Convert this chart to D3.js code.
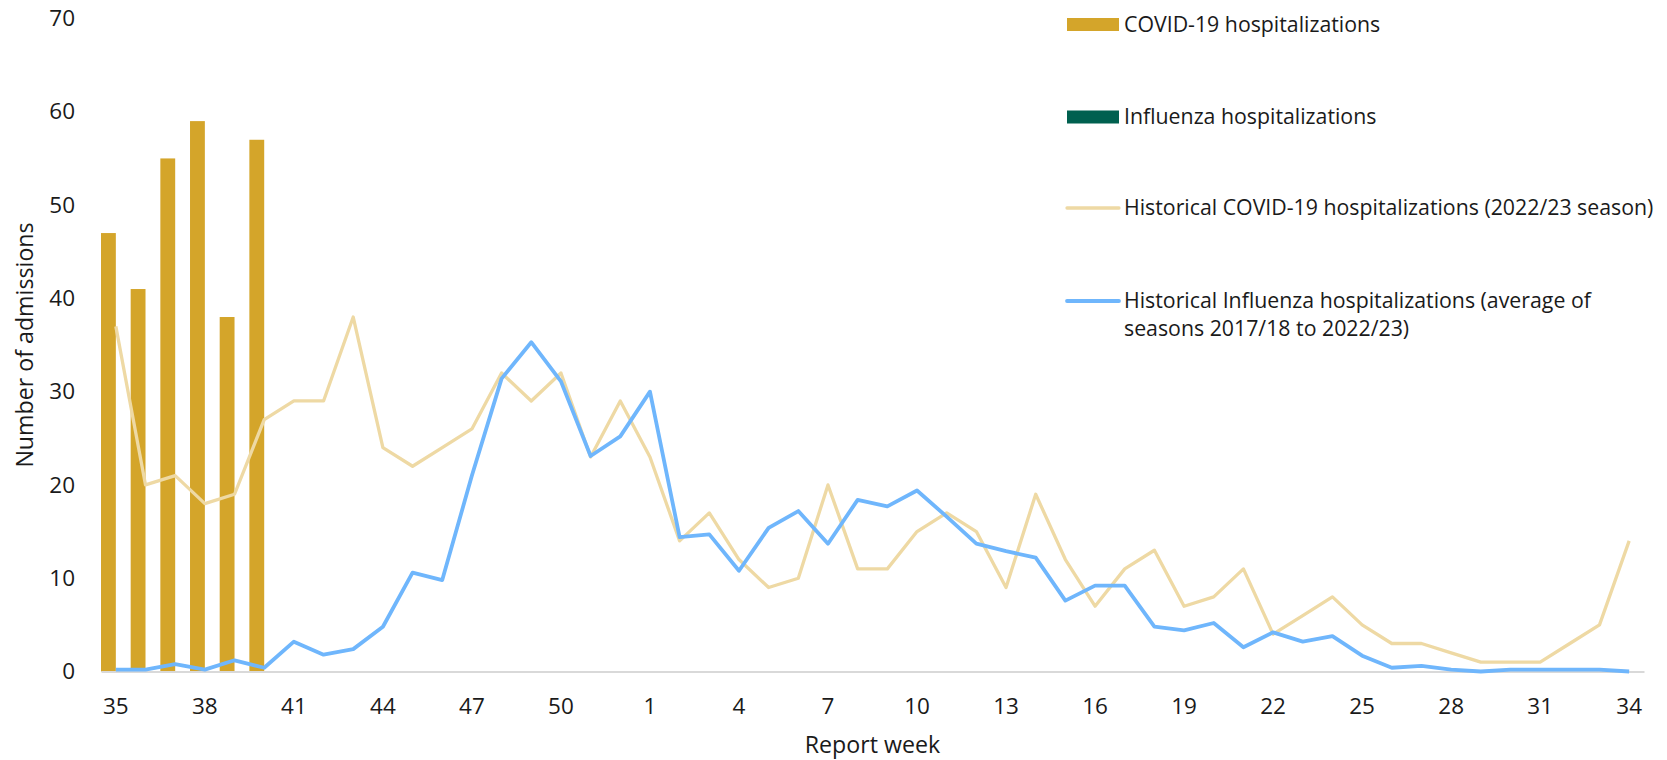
<!DOCTYPE html>
<html>
<head>
<meta charset="utf-8">
<script src="https://cdn.jsdelivr.net/npm/d3@7"></script>
<style>
  body { margin: 0; background: #fff; }
  svg { display: block; font-family: 'Open Sans', sans-serif; }
</style>
</head>
<body>
<div class="Canvas"></div>
<script>
const weeks = ['35', '36', '37', '38', '39', '40', '41', '42', '43', '44', '45', '46', '47', '48', '49', '50', '51', '52',
  '1', '2', '3', '4', '5', '6', '7', '8', '9', '10', '11', '12', '13', '14', '15', '16', '17', '18', '19', '20',
  '21', '22', '23', '24', '25', '26', '27', '28', '29', '30', '31', '32', '33', '34'];
const tickWeeks = ['35', '38', '41', '44', '47', '50', '1', '4', '7', '10', '13', '16', '19', '22', '25', '28', '31', '34'];
const yTicks = [0, 10, 20, 30, 40, 50, 60, 70];

// current season, reported so far
const barWeeks = ['35', '36', '37', '38', '39', '40'];
const covidHosp = [47, 41, 55, 59, 38, 57];
const fluHosp = [0, 0, 0, 0, 0, 0];

// historical lines, one value per week
const histCovid = [37, 20, 21, 18, 19, 27, 29, 29, 38, 24, 22, 24, 26, 32, 29, 32, 23, 29,
  23, 14, 17, 12, 9, 10, 20, 11, 11, 15, 17, 15, 9, 19, 12, 7, 11, 13, 7, 8,
  11, 4, 6, 8, 5, 3, 3, 2, 1, 1, 1, 3, 5, 14];
const histFlu = [0.2, 0.2, 0.8, 0.2, 1.2, 0.4, 3.2, 1.8, 2.4, 4.8, 10.6, 9.8, 21, 31.4, 35.3, 31.1, 23.1, 25.2,
  30, 14.4, 14.7, 10.8, 15.4, 17.2, 13.7, 18.4, 17.7, 19.4, 16.6, 13.7, 12.9, 12.2, 7.6, 9.2, 9.2, 4.8, 4.4, 5.2,
  2.6, 4.2, 3.2, 3.8, 1.7, 0.4, 0.6, 0.2, 0, 0.2, 0.2, 0.2, 0.2, 0];

const legendLabels = [
  ['COVID-19 hospitalizations'],
  ['Influenza hospitalizations'],
  ['Historical COVID-19 hospitalizations (2022/23 season)'],
  ['Historical Influenza hospitalizations (average of', 'seasons 2017/18 to 2022/23)']
];
const legendKinds = ['bar', 'bar', 'line', 'line'];

const width = 1667;
const height = 760;
const covidColor = '#d4a52a';
const fluColor = '#00604f';
const histCovidColor = '#eed9a4';
const histFluColor = '#6fb6fc';
const textColor = '#1a1a1a';
const tickSize = 22.5;
const titleSize = 23.2;
const legendSize = 21.3;

const svg = d3.select('.Canvas').append('svg').attr('width', width).attr('height', height);

const x = d3.scaleBand().domain(weeks).range([101, 1644]).padding(0);
const xInner = d3.scaleBand().domain(['covid', 'flu']).range([0, x.bandwidth()]);
const y = d3.scaleLinear().domain([0, 70]).range([671.5, 18.5]);
const xc = (w) => x(w) + x.bandwidth() / 2;

// bars
const barData = barWeeks.map((w, i) => ({ week: w, covid: covidHosp[i], flu: fluHosp[i] }));
const barGroups = svg.append('g').selectAll('g').data(barData).enter().append('g')
  .attr('transform', (d) => `translate(${x(d.week)},0)`);
barGroups.append('rect')
  .attr('x', xInner('covid'))
  .attr('width', xInner.bandwidth())
  .attr('y', (d) => y(d.covid))
  .attr('height', (d) => y(0) - y(d.covid))
  .attr('fill', covidColor);
barGroups.append('rect')
  .attr('x', xInner('flu'))
  .attr('width', xInner.bandwidth())
  .attr('y', (d) => y(d.flu))
  .attr('height', (d) => y(0) - y(d.flu))
  .attr('fill', fluColor);

// x axis
const xAxis = svg.append('g')
  .attr('transform', `translate(0,${y(0)})`)
  .call(d3.axisBottom(x).tickValues(tickWeeks).tickSize(0).tickSizeOuter(0))
  .attr('font-family', null).attr('font-size', tickSize);
xAxis.select('.domain').attr('stroke', '#d9d9d9').attr('stroke-width', 2);
xAxis.selectAll('text')
  .attr('y', 35).attr('dy', '0.35em').attr('fill', textColor);

// y axis
const yAxis = svg.append('g')
  .attr('transform', 'translate(101,0)')
  .call(d3.axisLeft(y).tickValues(yTicks).tickSize(0).tickPadding(26))
  .attr('font-family', null).attr('font-size', tickSize);
yAxis.select('.domain').remove();
yAxis.selectAll('text').attr('fill', textColor);

// lines
const line = d3.line().x((d, i) => xc(weeks[i])).y((d) => y(d));
svg.append('path').datum(histCovid)
  .attr('d', line).attr('fill', 'none')
  .attr('stroke', histCovidColor).attr('stroke-width', 3.3).attr('stroke-linejoin', 'round');
svg.append('path').datum(histFlu)
  .attr('d', line).attr('fill', 'none')
  .attr('stroke', histFluColor).attr('stroke-width', 3.8).attr('stroke-linejoin', 'round');

// axis titles
svg.append('text')
  .attr('x', 872.5).attr('y', 744.5).attr('dy', '0.35em')
  .attr('text-anchor', 'middle').attr('font-size', titleSize).attr('fill', textColor)
  .text('Report week');
svg.append('text')
  .attr('transform', 'translate(25,345) rotate(-90)').attr('dy', '0.35em')
  .attr('text-anchor', 'middle').attr('font-size', titleSize).attr('fill', textColor)
  .text('Number of admissions');

// legend
const legendColors = [covidColor, fluColor, histCovidColor, histFluColor];
const legendY = [24.5, 117, 208, 301];
const legend = svg.append('g').selectAll('g').data(legendLabels).enter().append('g')
  .attr('transform', (d, i) => `translate(1067,${legendY[i]})`);
legend.each(function (d, i) {
  const g = d3.select(this);
  if (legendKinds[i] == 'bar') {
    g.append('rect').attr('x', 0).attr('y', -6.5).attr('width', 52).attr('height', 13).attr('fill', legendColors[i]);
  } else {
    g.append('line').attr('x1', 0).attr('x2', 52).attr('y1', 0).attr('y2', 0)
      .attr('stroke', legendColors[i]).attr('stroke-width', i == 3 ? 3.8 : 3.3).attr('stroke-linecap', 'round');
  }
  const t = g.append('text').attr('x', 57).attr('font-size', legendSize).attr('fill', textColor);
  d.forEach((s, j) => {
    t.append('tspan').attr('x', 57).attr('y', j * 28).attr('dy', '0.35em').text(s);
  });
});
</script>
</body>
</html>
